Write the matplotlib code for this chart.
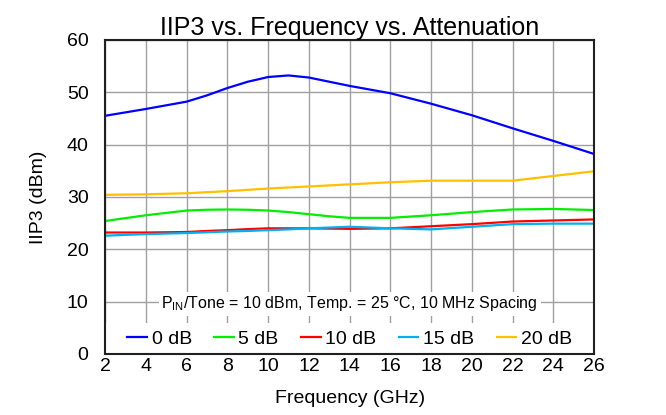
import numpy as np
import matplotlib.pyplot as plt

plt.rcParams['font.family'] = ['Liberation Sans', 'DejaVu Sans']

# Fréquences (GHz)
freq = [2, 4, 6, 7, 8, 9, 10, 11, 12, 13, 14, 16, 18, 20, 22, 24, 26]

# IIP3 (dBm) pour chaque atténuation
iip3_0db = [45.5, 46.8, 48.2, 49.4, 50.8, 52.0, 52.9, 53.2, 52.8, 52.0, 51.2, 49.8, 47.8, 45.6, 43.1, 40.7, 38.2]
iip3_5db = [25.4, 26.5, 27.4, 27.55, 27.6, 27.55, 27.4, 27.1, 26.7, 26.3, 26.0, 26.0, 26.5, 27.1, 27.6, 27.7, 27.5]
iip3_10db = [23.2, 23.2, 23.3, 23.5, 23.65, 23.85, 24.0, 24.0, 24.0, 23.95, 23.9, 24.0, 24.4, 24.8, 25.3, 25.5, 25.7]
iip3_15db = [22.6, 22.9, 23.1, 23.25, 23.4, 23.5, 23.65, 23.8, 24.0, 24.15, 24.3, 24.0, 23.8, 24.3, 24.8, 24.9, 24.9]
iip3_20db = [30.4, 30.5, 30.7, 30.9, 31.1, 31.35, 31.6, 31.8, 32.0, 32.2, 32.4, 32.8, 33.1, 33.1, 33.1, 34.0, 34.9]

series = [
    ("0 dB", iip3_0db, "#0000ff"),
    ("5 dB", iip3_5db, "#00ee00"),
    ("10 dB", iip3_10db, "#ff0000"),
    ("15 dB", iip3_15db, "#00b0f0"),
    ("20 dB", iip3_20db, "#ffc000"),
]

fig = plt.figure(figsize=(6.66, 4.15), dpi=100)
ax = fig.add_axes([0.158, 0.147, 0.734, 0.757])

for label, vals, col in series:
    ax.plot(freq, vals, color=col, lw=1.6, label=label)

ax.set_xlim(2, 26)
ax.set_ylim(0, 60)
ax.set_xticks(np.arange(2, 27, 2))
ax.set_yticks(np.arange(0, 61, 10))
ax.grid(True, color="#a0a0a0", lw=1.0)
ax.tick_params(length=0, labelsize=14)
ax.tick_params(axis="x", pad=3)
ax.tick_params(axis="y", pad=12)
for s in ax.spines.values():
    s.set_linewidth(1.5)
    s.set_color("#202020")

# bande blanche derrière la légende (cache la grille)
ax.axhspan(0, 5.9, color="white", zorder=2, lw=0)

ax.set_title("IIP3 vs. Frequency vs. Attenuation", fontsize=18, pad=2)
ax.set_xlabel("Frequency (GHz)", fontsize=14, labelpad=11)
ax.set_ylabel("IIP3 (dBm)", fontsize=14, labelpad=14)

ax.text(14, 9.6, r"P$_{\mathregular{IN}}$/Tone = 10 dBm, Temp. = 25 °C, 10 MHz Spacing",
        ha="center", va="center", fontsize=11.5,
        bbox=dict(facecolor="white", edgecolor="none", pad=2), zorder=5)

leg = ax.legend(loc="center", bbox_to_anchor=(0.5, 2.9 / 60), ncol=5, fontsize=14,
                handlelength=1.0, handletextpad=0.25, columnspacing=1.15,
                frameon=False, borderpad=0)
leg.set_zorder(6)

fig.savefig("out.png", dpi=100)
